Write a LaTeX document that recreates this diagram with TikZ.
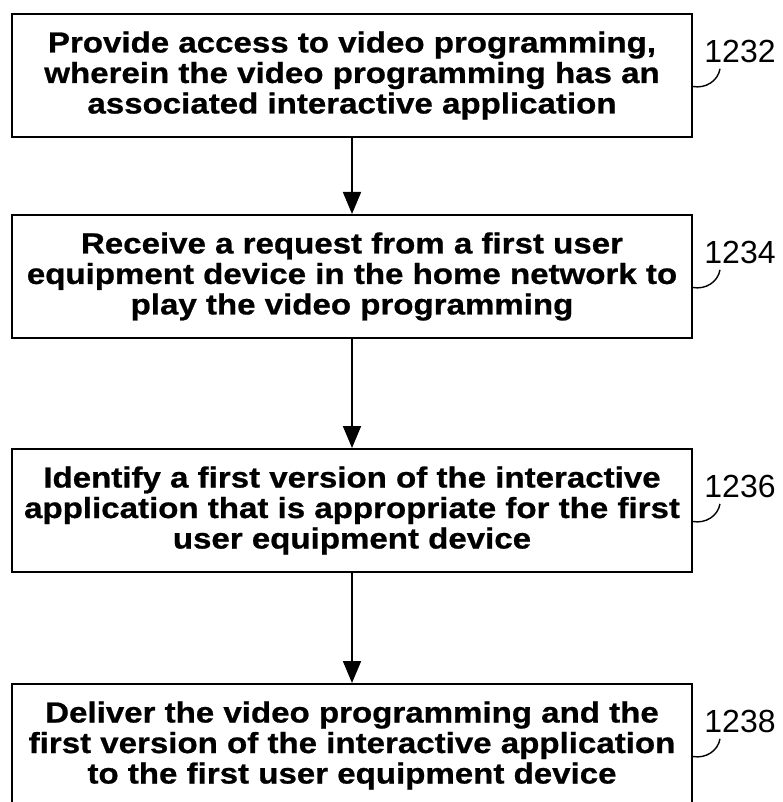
\documentclass[tikz,border=0pt]{standalone}
\usepackage{fontspec}
\setmainfont{Liberation Sans}
\newfontfamily\stepfont{Liberation Sans}[FakeStretch=1.14,FakeBold=0.8]
\usetikzlibrary{positioning,arrows.meta}

\begin{document}
\begin{tikzpicture}[x=1pt,y=-1pt,
  stepbox/.style={draw, line width=2pt, minimum width=680pt, minimum height=123pt,
    inner sep=0pt, align=center, font=\stepfont\bfseries\fontsize{29}{30.5}\selectfont},
  flow/.style={-{Triangle[length=22pt,width=18pt]}, line width=1.8pt},
  refnum/.style={font=\fontsize{32}{32}\selectfont},
  hook/.style={line width=1.4pt}]
\useasboundingbox (0,0) rectangle (783,802);

\node[stepbox] (s1) at (352,75.5) {Provide access to video programming,\\
  wherein the video programming has an\\ associated interactive application};
\node[stepbox, below=76pt of s1] (s2) {Receive a request from a first user\\
  equipment device in the home network to\\ play the video programming};
\node[stepbox, below=109pt of s2] (s3) {Identify a first version of the interactive\\
  application that is appropriate for the first\\ user equipment device};
\node[stepbox, below=110pt of s3] (s4) {Deliver the video programming and the\\
  first version of the interactive application\\ to the first user equipment device};

% reference numerals
\node[refnum] (n1) at ([xshift=47pt,yshift=-38pt]s1.north east) {1232};
\node[refnum] (n2) at ([xshift=47pt,yshift=-38pt]s2.north east) {1234};
\node[refnum] (n3) at ([xshift=47pt,yshift=-38pt]s3.north east) {1236};
\node[refnum] (n4) at ([xshift=47pt,yshift=-38pt]s4.north east) {1238};

\draw[hook] ([yshift=-11pt]s1.east) to[out=-10,in=-100] ([xshift=-20pt,yshift=-3pt]n1.south);
\draw[hook] ([yshift=-11pt]s2.east) to[out=-10,in=-100] ([xshift=-20pt,yshift=-3pt]n2.south);
\draw[hook] ([yshift=-11pt]s3.east) to[out=-10,in=-100] ([xshift=-20pt,yshift=-3pt]n3.south);
\draw[hook] ([yshift=-11pt]s4.east) to[out=-10,in=-100] ([xshift=-20pt,yshift=-3pt]n4.south);

\draw[flow] (s1) -- (s2);
\draw[flow] (s2) -- (s3);
\draw[flow] (s3) -- (s4);
\end{tikzpicture}
\end{document}
